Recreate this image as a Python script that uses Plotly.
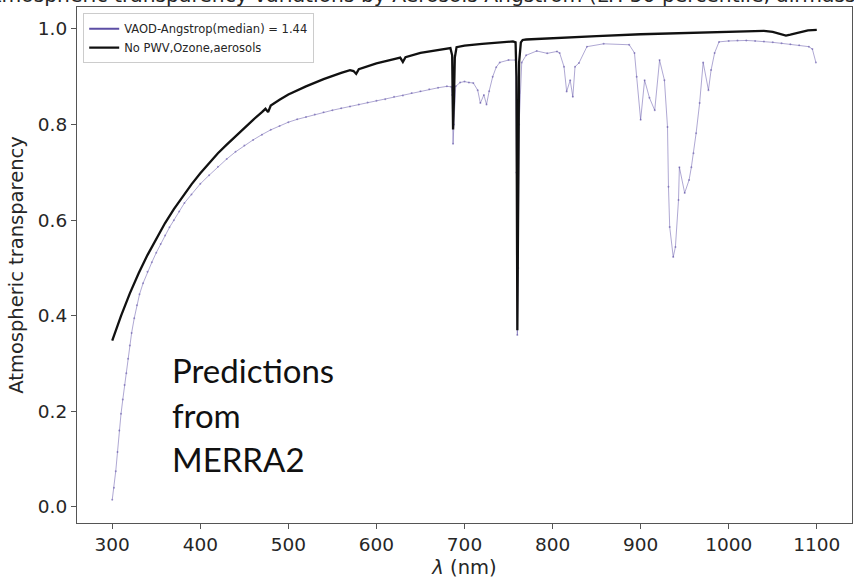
import plotly.graph_objects as go

# Transmission with no PWV, ozone or aerosols (Rayleigh + O2 bands)
wl_clear = [300, 310, 320, 330, 340, 350, 360, 370, 380, 390, 400, 410, 420, 430, 440,
            450, 460, 470, 474, 477, 480, 490, 500, 520, 540, 560, 570, 574, 577, 580,
            590, 600, 620, 627, 630, 633, 650, 670, 684, 686, 687, 688, 689, 691, 700,
            720, 740, 755, 758, 759, 760, 761, 762, 764, 766, 770, 800, 850, 900, 950,
            1000, 1040, 1050, 1060, 1065, 1070, 1080, 1090, 1100]
tr_clear = [0.348, 0.400, 0.447, 0.489, 0.527, 0.562, 0.594, 0.623, 0.650, 0.675, 0.698, 0.720, 0.740, 0.758, 0.776,
            0.792, 0.810, 0.826, 0.833, 0.826, 0.840, 0.852, 0.863, 0.880, 0.895, 0.908, 0.914, 0.912, 0.906, 0.916,
            0.922, 0.928, 0.937, 0.940, 0.931, 0.941, 0.950, 0.956, 0.960, 0.945, 0.790, 0.850, 0.940, 0.962, 0.965,
            0.969, 0.972, 0.974, 0.972, 0.900, 0.370, 0.700, 0.930, 0.972, 0.977, 0.978, 0.981, 0.985, 0.989, 0.992,
            0.994, 0.996, 0.994, 0.988, 0.986, 0.988, 0.993, 0.997, 0.998]

# Transmission with median aerosol Angstrom exponent, PWV and ozone
wl_aer = [300, 302, 304, 306, 308, 310, 312, 314, 316, 318, 320, 322, 325, 328, 331,
          335, 340, 345, 350, 355, 360, 365, 370, 376, 382, 390, 400, 410, 420, 430,
          440, 450, 460, 470, 480, 490, 500, 510, 520, 530, 540, 550, 560, 570, 580,
          590, 600, 610, 620, 630, 640, 650, 660, 670, 680, 685, 686, 687, 688, 690,
          695, 700, 705, 710, 715, 718, 722, 725, 728, 732, 736, 740, 750, 758, 759,
          760, 761, 762, 765, 770, 782, 794, 805, 808, 813, 816, 820, 823, 825.5, 830,
          839, 858, 887, 893, 895.5, 900, 904.5, 910, 916, 921.5, 927, 930.5, 931.6, 933, 937,
          939.5, 943, 944, 950, 955, 957.6, 960, 963, 967, 971, 977, 980, 984, 989, 1000,
          1010, 1020, 1030, 1040, 1050, 1060, 1070, 1080, 1091, 1095, 1099]
tr_aer = [0.015, 0.040, 0.075, 0.115, 0.160, 0.195, 0.225, 0.255, 0.280, 0.310, 0.338, 0.364, 0.395, 0.422, 0.445,
          0.468, 0.492, 0.512, 0.532, 0.550, 0.568, 0.585, 0.600, 0.618, 0.636, 0.654, 0.676, 0.694, 0.712, 0.728,
          0.743, 0.756, 0.768, 0.779, 0.789, 0.797, 0.805, 0.811, 0.816, 0.821, 0.826, 0.830, 0.834, 0.838, 0.842,
          0.846, 0.850, 0.853, 0.858, 0.861, 0.866, 0.870, 0.874, 0.877, 0.880, 0.879, 0.862, 0.760, 0.800, 0.880,
          0.888, 0.890, 0.888, 0.887, 0.872, 0.845, 0.862, 0.842, 0.870, 0.900, 0.920, 0.930, 0.935, 0.935, 0.700,
          0.360, 0.500, 0.800, 0.930, 0.945, 0.954, 0.949, 0.953, 0.950, 0.921, 0.869, 0.893, 0.858, 0.921, 0.929,
          0.963, 0.969, 0.967, 0.950, 0.900, 0.810, 0.893, 0.856, 0.830, 0.935, 0.893, 0.795, 0.670, 0.586, 0.523,
          0.544, 0.642, 0.711, 0.657, 0.684, 0.711, 0.740, 0.782, 0.845, 0.930, 0.872, 0.914, 0.950, 0.973, 0.975,
          0.976, 0.976, 0.975, 0.974, 0.972, 0.970, 0.968, 0.966, 0.963, 0.958, 0.930]

x_ticks = [300, 400, 500, 600, 700, 800, 900, 1000, 1100]
y_ticks = [0.0, 0.2, 0.4, 0.6, 0.8, 1.0]

PURPLE = "rgb(92,78,165)"
TICK_FONT = dict(family="DejaVu Sans", size=18.5, color="#262626")
LABEL_FONT = dict(family="DejaVu Sans", size=19.5, color="#262626")

fig = go.Figure()

fig.add_trace(go.Scatter(
    x=wl_aer, y=tr_aer, mode="lines+markers",
    line=dict(color="rgba(92,78,165,0.55)", width=0.9),
    marker=dict(color="rgba(92,78,165,0.55)", size=2),
    showlegend=False, hoverinfo="skip",
))
fig.add_trace(go.Scatter(
    x=[None], y=[None], mode="lines",
    line=dict(color=PURPLE, width=2),
    name="VAOD-Angstrop(median) = 1.44",
))
fig.add_trace(go.Scatter(
    x=wl_clear, y=tr_clear, mode="lines",
    line=dict(color="#111111", width=2.3),
    name="No PWV,Ozone,aerosols",
))

fig.update_layout(
    width=854, height=579,
    margin=dict(l=77, r=2, t=7, b=56),
    paper_bgcolor="white", plot_bgcolor="white",
    showlegend=True,
    legend=dict(
        x=0.008, y=0.988, xanchor="left", yanchor="top",
        bgcolor="rgba(255,255,255,0.85)", bordercolor="#cccccc", borderwidth=1,
        font=dict(family="DejaVu Sans", size=11.5, color="#262626"),
        tracegroupgap=0, itemwidth=30,
    ),
    xaxis=dict(
        range=[260, 1140], tickvals=x_ticks, ticktext=[str(v) for v in x_ticks],
        showgrid=False, zeroline=False, showline=True, linecolor="#555555", linewidth=1.2,
        mirror=True, ticks="outside", ticklen=5, tickcolor="#555555",
        tickfont=TICK_FONT,
        title=dict(text="<i>λ</i> (nm)", font=LABEL_FONT, standoff=8),
    ),
    yaxis=dict(
        range=[-0.0335, 1.046], tickvals=y_ticks, ticktext=[f"{v:.1f}" for v in y_ticks],
        showgrid=False, zeroline=False, showline=True, linecolor="#555555", linewidth=1.2,
        mirror=True, ticks="outside", ticklen=5, tickcolor="#555555",
        tickfont=TICK_FONT,
        title=dict(text="Atmospheric transparency", font=LABEL_FONT, standoff=8),
    ),
)

# Figure title, sitting above the axes
fig.add_annotation(
    xref="paper", yref="paper", x=-0.128, y=1.024, xanchor="left", yanchor="middle",
    text="Atmospheric transparency variations by Aerosols Angstrom (LH 50 percentile, airmass = 1)",
    showarrow=False, font=dict(family="DejaVu Sans", size=20.3, color="#262626"),
)

# Caption inside the plot
for line_text, yv in [("Predictions", 0.287), ("from", 0.192), ("MERRA2", 0.100)]:
    fig.add_annotation(
        xref="x", yref="y", x=366.0, y=yv, xanchor="left", yanchor="middle",
        text=line_text, showarrow=False,
        font=dict(family="Lato", size=33, color="#111111"),
    )

fig.write_html("out.html")
